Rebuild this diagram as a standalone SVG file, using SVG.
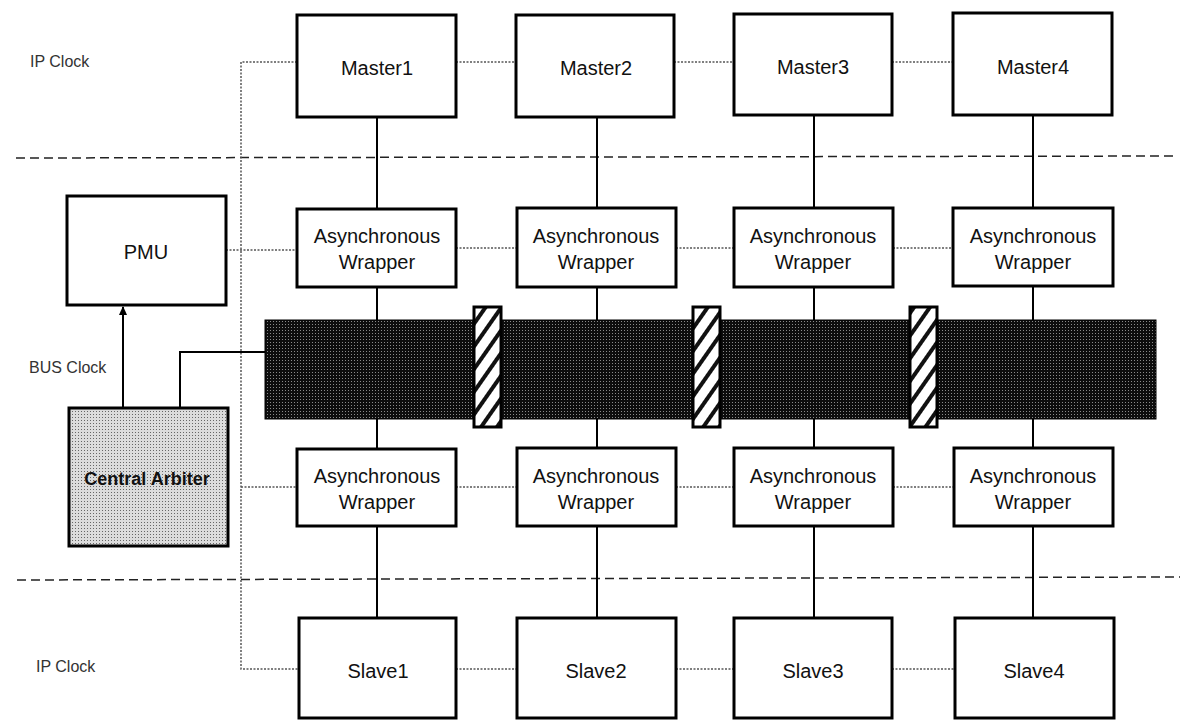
<svg xmlns="http://www.w3.org/2000/svg" width="1189" height="721" viewBox="0 0 1189 721">
<defs>
<pattern id="busfill" patternUnits="userSpaceOnUse" width="3" height="3">
<rect width="3" height="3" fill="#0d0d0d"/>
<rect width="1" height="1" fill="#8a8a8a"/>
</pattern>
<pattern id="arbfill" patternUnits="userSpaceOnUse" width="3" height="3">
<rect width="3" height="3" fill="#dcdcdc"/>
<rect width="1" height="1" fill="#666"/>
</pattern>
<pattern id="hatch" patternUnits="userSpaceOnUse" width="13" height="13" patternTransform="rotate(35)">
<rect width="13" height="13" fill="#fff"/>
<rect width="4" height="13" fill="#111"/>
</pattern>
<marker id="arrow" markerWidth="10" markerHeight="10" refX="8" refY="5" orient="auto" markerUnits="userSpaceOnUse">
<path d="M0,1 L9,5 L0,9 z" fill="#000"/>
</marker>
<style>
.box{fill:#fff;stroke:#000;stroke-width:3}
.t{font-family:"Liberation Sans",Arial,sans-serif;font-size:20px;fill:#111;text-anchor:middle}
.lbl{font-family:"Liberation Sans",Arial,sans-serif;font-size:16px;fill:#333}
.solid{stroke:#000;stroke-width:2;fill:none}
.dot{stroke:#555;stroke-width:1.5;stroke-dasharray:2 1.5;fill:none}
.dash{stroke:#222;stroke-width:1.5;stroke-dasharray:9 5;fill:none}
</style>
</defs>
<rect width="1189" height="721" fill="#fff"/>

<g id="labels">
<text class="lbl" x="30" y="67">IP Clock</text>
<text class="lbl" x="29" y="373">BUS Clock</text>
<text class="lbl" x="36" y="672">IP Clock</text>
</g>

<g id="domain-lines">
<line class="dash" x1="16" y1="158" x2="1178" y2="156"/>
<line class="dash" x1="17" y1="580" x2="1180" y2="577"/>
</g>

<g id="connectors">
<path class="dot" d="M297,62 H241 V669 H300"/>
<line class="dot" x1="456" y1="62" x2="516" y2="62"/>
<line class="dot" x1="674" y1="62" x2="734" y2="62"/>
<line class="dot" x1="892" y1="62" x2="953" y2="62"/>
<line class="dot" x1="226" y1="250" x2="297" y2="250"/>
<line class="dot" x1="456" y1="248" x2="517" y2="248"/>
<line class="dot" x1="676" y1="248" x2="734" y2="248"/>
<line class="dot" x1="893" y1="248" x2="953" y2="248"/>
<line class="dot" x1="241" y1="487" x2="297" y2="487"/>
<line class="dot" x1="456" y1="487" x2="517" y2="487"/>
<line class="dot" x1="676" y1="487" x2="734" y2="487"/>
<line class="dot" x1="893" y1="487" x2="953" y2="487"/>
<line class="dot" x1="456" y1="669" x2="517" y2="669"/>
<line class="dot" x1="676" y1="669" x2="734" y2="669"/>
<line class="dot" x1="892" y1="669" x2="955" y2="669"/>
<line class="solid" x1="377" y1="117" x2="377" y2="618"/>
<line class="solid" x1="597" y1="117" x2="597" y2="618"/>
<line class="solid" x1="814" y1="115" x2="814" y2="618"/>
<line class="solid" x1="1033" y1="115" x2="1033" y2="618"/>
<line class="solid" x1="123" y1="408" x2="123" y2="307" marker-end="url(#arrow)"/>
<path class="solid" d="M180,408 V352 H266"/>
</g>

<g id="bus">
<rect x="265" y="320" width="891" height="99" fill="url(#busfill)" stroke="#000" stroke-width="1"/>
</g>
<g id="bridge1"><rect x="474" y="307" width="27" height="120" fill="url(#hatch)" stroke="#000" stroke-width="3"/></g>
<g id="bridge2"><rect x="693" y="307" width="27" height="120" fill="url(#hatch)" stroke="#000" stroke-width="3"/></g>
<g id="bridge3"><rect x="910" y="307" width="27" height="120" fill="url(#hatch)" stroke="#000" stroke-width="3"/></g>

<g id="master1"><rect class="box" x="297" y="15" width="159" height="102"/><text class="t" x="377" y="75">Master1</text></g>
<g id="master2"><rect class="box" x="516" y="15" width="158" height="102"/><text class="t" x="596" y="75">Master2</text></g>
<g id="master3"><rect class="box" x="734" y="14" width="158" height="101"/><text class="t" x="813" y="74">Master3</text></g>
<g id="master4"><rect class="box" x="953" y="13" width="159" height="102"/><text class="t" x="1033" y="74">Master4</text></g>

<g id="pmu"><rect class="box" x="67" y="196" width="159" height="109"/><text class="t" x="146" y="259">PMU</text></g>
<g id="arbiter"><rect x="69" y="408" width="159" height="138" fill="url(#arbfill)" stroke="#000" stroke-width="3"/><text class="t" x="147" y="485" style="font-weight:bold;font-size:18px">Central Arbiter</text></g>

<g id="aw-top1"><rect class="box" x="297" y="209" width="159" height="78"/><text class="t" x="377" y="243">Asynchronous</text><text class="t" x="377" y="269">Wrapper</text></g>
<g id="aw-top2"><rect class="box" x="517" y="208" width="159" height="79"/><text class="t" x="596" y="243">Asynchronous</text><text class="t" x="596" y="269">Wrapper</text></g>
<g id="aw-top3"><rect class="box" x="734" y="208" width="159" height="79"/><text class="t" x="813" y="243">Asynchronous</text><text class="t" x="813" y="269">Wrapper</text></g>
<g id="aw-top4"><rect class="box" x="953" y="208" width="160" height="78"/><text class="t" x="1033" y="243">Asynchronous</text><text class="t" x="1033" y="269">Wrapper</text></g>

<g id="aw-bot1"><rect class="box" x="297" y="449" width="159" height="77"/><text class="t" x="377" y="483">Asynchronous</text><text class="t" x="377" y="509">Wrapper</text></g>
<g id="aw-bot2"><rect class="box" x="517" y="448" width="159" height="78"/><text class="t" x="596" y="483">Asynchronous</text><text class="t" x="596" y="509">Wrapper</text></g>
<g id="aw-bot3"><rect class="box" x="734" y="448" width="159" height="78"/><text class="t" x="813" y="483">Asynchronous</text><text class="t" x="813" y="509">Wrapper</text></g>
<g id="aw-bot4"><rect class="box" x="954" y="448" width="159" height="78"/><text class="t" x="1033" y="483">Asynchronous</text><text class="t" x="1033" y="509">Wrapper</text></g>

<g id="slave1"><rect class="box" x="299" y="618" width="157" height="100"/><text class="t" x="378" y="678">Slave1</text></g>
<g id="slave2"><rect class="box" x="517" y="618" width="159" height="100"/><text class="t" x="596" y="678">Slave2</text></g>
<g id="slave3"><rect class="box" x="734" y="618" width="158" height="100"/><text class="t" x="813" y="678">Slave3</text></g>
<g id="slave4"><rect class="box" x="955" y="618" width="159" height="100"/><text class="t" x="1034" y="678">Slave4</text></g>
</svg>
